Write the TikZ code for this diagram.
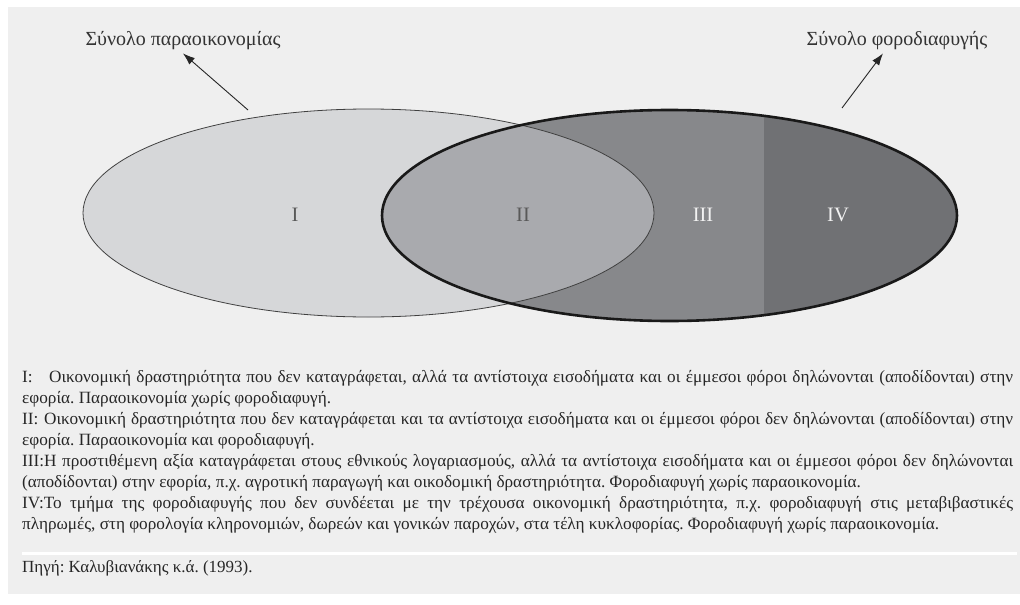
\documentclass[tikz,border=0pt]{standalone}
\usepackage{fontspec}
\setmainfont{Liberation Serif}
\usepackage{xcolor}
\usetikzlibrary{arrows.meta}

\definecolor{panelgray}{HTML}{EFEFEF}
\definecolor{setone}{HTML}{D6D7D9}
\definecolor{settwo}{HTML}{A9AAAE}
\definecolor{setthree}{HTML}{87888B}
\definecolor{setfour}{HTML}{707174}

\begin{document}
\begin{tikzpicture}[x=1pt, y=-1pt, >={Latex[length=12pt,width=8.5pt]}]
    \tikzstyle{numeral} = [font=\fontsize{20.5}{20}\selectfont]
    \tikzstyle{setlabel} = [font=\fontsize{20}{20}\selectfont, text=black!80, inner sep=3pt]
    \tikzstyle{line} = [draw, ->, line width=0.9pt, black!85]
    \tikzstyle{legend} = [anchor=north west, text width=991pt, align=justify, inner sep=0pt,
        font=\fontsize{17.2}{21}\selectfont, text=black!85]

    \useasboundingbox (0,0) rectangle (1020,605);
    \fill[panelgray] (8,7) rectangle (1020,594);
    \draw[white, line width=3pt] (22,553) -- (1017,553);

    % the two sets
    \fill[setone] (368.5,213) ellipse [x radius=285.5pt, y radius=104pt];
    \fill[setthree] (669.5,215.5) ellipse [x radius=287.5pt, y radius=105.5pt];
    \begin{scope}
        \clip (669.5,215.5) ellipse [x radius=287.5pt, y radius=105.5pt];
        \fill[setfour] (764,100) rectangle (970,330);
        \clip (368.5,213) ellipse [x radius=285.5pt, y radius=104pt];
        \fill[settwo] (370,100) rectangle (660,330);
    \end{scope}
    \draw[black!75, line width=0.8pt] (368.5,213) ellipse [x radius=285.5pt, y radius=104pt];
    \draw[black!90, line width=2.6pt] (669.5,215.5) ellipse [x radius=287.5pt, y radius=105.5pt];

    \node [numeral, text=black!65] (one) at (295,215) {I};
    \node [numeral, text=black!65] (two) at (523,215) {II};
    \node [numeral, text=white!95!black] (three) at (703,215) {III};
    \node [numeral, text=white!95!black] (four) at (838,215) {IV};

    \node [setlabel] (shadowlabel) at (183,41) {Σύνολο παραοικονομίας};
    \node [setlabel] (evasionlabel) at (897,41) {Σύνολο φοροδιαφυγής};
    \coordinate (shadowfoot) at (248,110);
    \coordinate (evasionfoot) at (842,108);
    \path [line] (shadowfoot) -- (shadowlabel.south);
    \path [line] (evasionfoot) -- ([xshift=-14pt]evasionlabel.south);

    % legend
    \node [legend] (notes) at (22,370) {\hyphenpenalty=10000 \frenchspacing
        \makebox[27pt][l]{I:}Οικονομική δραστηριότητα που δεν καταγράφεται, αλλά τα αντίστοιχα εισοδήματα και οι έμμεσοι φόροι δηλώνονται (αποδίδονται) στην\linebreak
        εφορία. Παραοικονομία χωρίς φοροδιαφυγή.\\
        \makebox[22pt][l]{II:}Οικονομική δραστηριότητα που δεν καταγράφεται και τα αντίστοιχα εισοδήματα και οι έμμεσοι φόροι δεν δηλώνονται (αποδίδονται) στην\linebreak
        εφορία. Παραοικονομία και φοροδιαφυγή.\\
        III:Η προστιθέμενη αξία καταγράφεται στους εθνικούς λογαριασμούς, αλλά τα αντίστοιχα εισοδήματα και οι έμμεσοι φόροι δεν δηλώνονται\linebreak
        (αποδίδονται) στην εφορία, π.χ. αγροτική παραγωγή και οικοδομική δραστηριότητα. Φοροδιαφυγή χωρίς παραοικονομία.\\
        IV:Το τμήμα της φοροδιαφυγής που δεν συνδέεται με την τρέχουσα οικονομική δραστηριότητα, π.χ. φοροδιαφυγή στις μεταβιβαστικές\linebreak
        πληρωμές, στη φορολογία κληρονομιών, δωρεών και γονικών παροχών, στα τέλη κυκλοφορίας. Φοροδιαφυγή χωρίς παραοικονομία.};
    \node [anchor=base west, inner sep=0pt, font=\fontsize{17}{21}\selectfont, text=black!85] (source) at (22,572) {\frenchspacing Πηγή: Καλυβιανάκης κ.ά. (1993).};
\end{tikzpicture}
\end{document}
